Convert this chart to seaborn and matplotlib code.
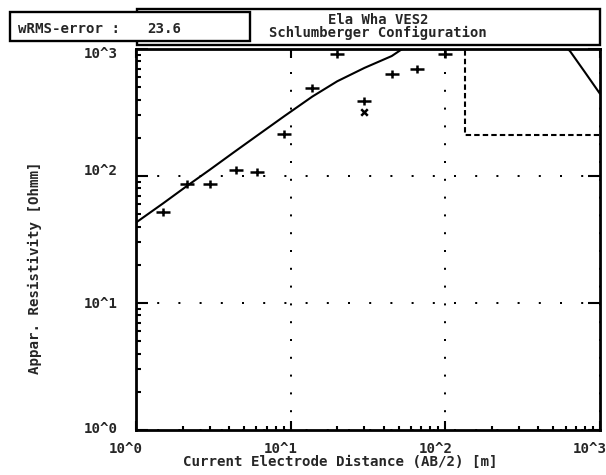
import matplotlib
matplotlib.use("Agg")
import matplotlib.pyplot as plt
import seaborn as sns
from matplotlib.path import Path
from matplotlib.patches import Rectangle
from matplotlib.ticker import FixedLocator, LogLocator, NullFormatter
from matplotlib.transforms import offset_copy

# ---- sounding data -------------------------------------------------------
ab2_obs = [1.5, 2.15, 3.0, 4.4, 6.1, 9.1, 13.8, 20, 30, 45, 66, 100]
rho_obs = [52, 86, 86, 112, 108, 213, 497, 910, 391, 641, 698, 910]

ab2_flag = [30]
rho_flag = [322]

# calculated response of the layer model
ab2_calc = [1.0, 1.5, 2.15, 3.0, 4.3, 6.1, 9.1, 13.8, 20, 30, 45, 52,
            70, 100, 150, 250, 400, 520, 640, 800, 1000]
rho_calc = [43, 61, 84, 112, 154, 209, 296, 422, 557, 710, 880, 990,
            1150, 1300, 1400, 1420, 1320, 1220, 962, 655, 444]

# layer model (depth, resistivity) as a step line
model_depth = [135, 135, 1000]
model_rho = [5000, 210, 210]

rms_error = "23.6"
site_name = "Ela Wha VES2"
config_name = "Schlumberger Configuration"
x_tick_labels = ["10^0", "10^1", "10^2", "10^3"]
y_tick_labels = ["10^0", "10^1", "10^2", "10^3"]
decades = [1, 10, 100, 1000]

# ---- figure ----------------------------------------------------------------
sns.set_style("white")
plt.rcParams["font.family"] = ["DejaVu Sans Mono"]
plt.rcParams["font.weight"] = "bold"
FS = 10.2

W, H = 606, 475
fig = plt.figure(figsize=(W / 100, H / 100), dpi=100)
fig.patch.set_facecolor("white")


def fx(px):
    return px / W


def fy(py):
    return 1 - py / H


ax_l, ax_r, ax_t, ax_b = 136, 600, 49, 430
ax = fig.add_axes([fx(ax_l), fy(ax_b), (ax_r - ax_l) / W, (ax_b - ax_t) / H])
ax.set_facecolor("white")
ax.set_xscale("log")
ax.set_yscale("log")
ax.set_xlim(1, 1000)
ax.set_ylim(1, 1000)

# dotted grid at the decades
ax.xaxis.grid(True, which="major", color="black", linewidth=1.44,
              linestyle=(0, (1, 7.9)))
ax.yaxis.grid(True, which="major", color="black", linewidth=1.44,
              linestyle=(0, (1, 9.6)))
ax.set_axisbelow(True)

# model curve
sns.lineplot(x=ab2_calc, y=rho_calc, ax=ax, color="black", linewidth=1.5,
             sort=False, estimator=None)

# layer model step
sns.lineplot(x=model_depth, y=model_rho, ax=ax, color="black", linewidth=1.5,
             sort=False, estimator=None, linestyle=(0, (2.6, 1.5)))

# measured apparent resistivities
cross = Path([(-1.6, 0), (1.6, 0), (0, -1), (0, 1)],
             [Path.MOVETO, Path.LINETO, Path.MOVETO, Path.LINETO])
sns.scatterplot(x=ab2_obs, y=rho_obs, ax=ax, marker=cross, s=90,
                color="black", edgecolor="black", linewidth=1.8, zorder=5)
sns.scatterplot(x=ab2_flag, y=rho_flag, ax=ax, marker="x", s=22,
                color="black", linewidth=1.8, zorder=5)

ax.set_xlim(1, 1000)
ax.set_ylim(1, 1000)
ax.set_xlabel("")
ax.set_ylabel("")

for sp in ax.spines.values():
    sp.set_visible(True)
    sp.set_color("black")
    sp.set_linewidth(2)

for axis in (ax.xaxis, ax.yaxis):
    axis.set_major_locator(FixedLocator(decades))
    axis.set_minor_locator(LogLocator(base=10, subs=range(2, 10)))
    axis.set_major_formatter(NullFormatter())
    axis.set_minor_formatter(NullFormatter())

ax.tick_params(which="both", direction="in", color="black", width=1.5,
               labelleft=False, labelbottom=False)
ax.tick_params(which="major", top=True, right=True, left=True, bottom=True)
ax.tick_params(which="minor", top=False, right=False, left=True, bottom=True)
ax.tick_params(axis="y", which="major", length=8.5)
ax.tick_params(axis="y", which="minor", length=3.6)
ax.tick_params(axis="x", which="major", length=6.2)
ax.tick_params(axis="x", which="minor", length=3.0)

# tick labels written as plain text
xt = offset_copy(ax.get_xaxis_transform(), fig=fig, x=-10, y=-23, units="dots")
for v, lab in zip(decades, x_tick_labels):
    ax.text(v, 0, lab, transform=xt, ha="center", va="baseline",
            fontsize=FS, fontweight="bold", clip_on=False)

y_shift = [2, 0, 6, -4]
for v, lab, dy in zip(decades, y_tick_labels, y_shift):
    yt = offset_copy(ax.get_yaxis_transform(), fig=fig, x=-18, y=dy - 5,
                     units="dots")
    ax.text(0, v, lab, transform=yt, ha="right", va="baseline",
            fontsize=FS, fontweight="bold", clip_on=False)

fig.text(fx(340), fy(466.5), "Current Electrode Distance (AB/2) [m]",
         ha="center", va="baseline", fontsize=FS, fontweight="bold")
fig.text(fx(35), fy(268), "Appar. Resistivity [Ohmm]", rotation=90,
         ha="center", va="center", fontsize=FS, fontweight="bold")

# header boxes
fig.add_artist(Rectangle((fx(137), fy(45)), (600 - 137) / W, (45 - 9) / H,
                         transform=fig.transFigure, facecolor="white",
                         edgecolor="black", linewidth=1.7, zorder=3))
fig.add_artist(Rectangle((fx(9.5), fy(40.5)), (250 - 9.5) / W, (40.5 - 12.5) / H,
                         transform=fig.transFigure, facecolor="white",
                         edgecolor="black", linewidth=1.7, zorder=4))
fig.text(fx(18), fy(33), "wRMS-error :", ha="left", va="baseline",
         fontsize=FS, fontweight="bold", zorder=5)
fig.text(fx(147), fy(33), rms_error, ha="left", va="baseline",
         fontsize=FS, fontweight="bold", zorder=5)
fig.text(fx(378), fy(24.2), site_name, ha="center", va="baseline",
         fontsize=FS - 0.2, fontweight="bold", zorder=5)
fig.text(fx(378), fy(37), config_name, ha="center", va="baseline",
         fontsize=FS - 0.2, fontweight="bold", zorder=5)

fig.savefig("out.png", dpi=100)
